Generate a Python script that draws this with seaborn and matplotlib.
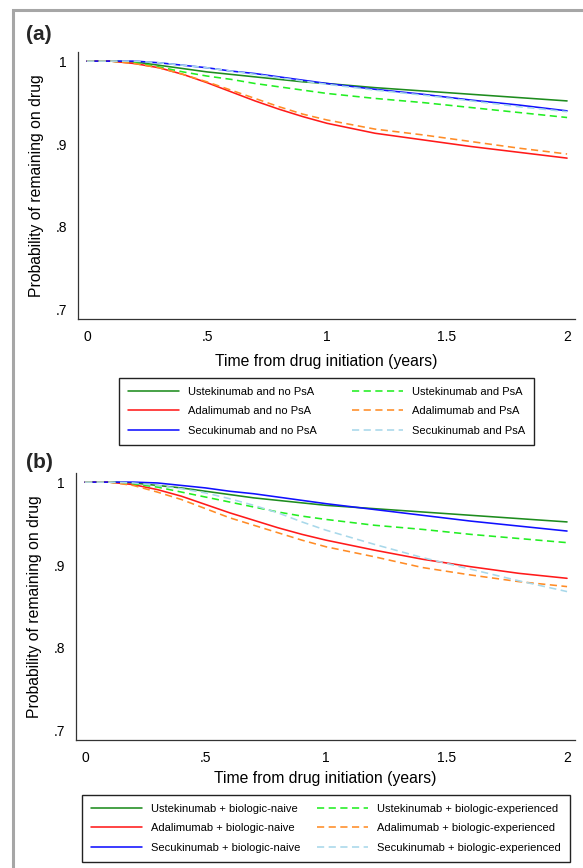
import numpy as np
import pandas as pd
import matplotlib
matplotlib.use("Agg")
import matplotlib.pyplot as plt
import seaborn as sns
from matplotlib.patches import Rectangle

# time points (years)
years = [0, 0.1, 0.2, 0.3, 0.4, 0.5, 0.6, 0.7, 0.8, 0.9, 1.0, 1.2, 1.4, 1.6, 1.8, 2.0]

# panel (a): by PsA status
a_ust_nopsa = [1, 1, .999, .995, .991, .987, .984, .981, .978, .975, .973, .968, .964, .960, .956, .952]
a_ada_nopsa = [1, 1, .997, .992, .984, .974, .963, .952, .942, .933, .925, .913, .905, .897, .890, .883]
a_sec_nopsa = [1, 1, 1, .998, .995, .992, .988, .985, .981, .977, .973, .966, .960, .953, .947, .940]
a_ust_psa = [1, 1, .998, .993, .987, .982, .978, .973, .969, .965, .961, .955, .950, .944, .938, .932]
a_ada_psa = [1, 1, .997, .992, .984, .975, .965, .955, .945, .936, .929, .918, .911, .903, .895, .888]
a_sec_psa = [1, 1, 1, .998, .995, .992, .988, .984, .980, .976, .972, .965, .959, .952, .945, .939]

# panel (b): by previous biologic exposure
b_ust_naive = [1, 1, .999, .996, .993, .989, .985, .981, .978, .975, .972, .968, .964, .960, .956, .952]
b_ada_naive = [1, 1, .997, .991, .983, .973, .963, .954, .945, .937, .930, .918, .907, .898, .890, .884]
b_sec_naive = [1, 1, 1, .999, .996, .993, .989, .986, .982, .978, .974, .967, .960, .953, .947, .941]
b_ust_exp = [1, 1, .998, .994, .988, .982, .976, .970, .964, .959, .955, .948, .943, .937, .932, .927]
b_ada_exp = [1, 1, .996, .988, .979, .968, .957, .948, .939, .930, .922, .910, .897, .888, .880, .874]
b_sec_exp = [1, 1, .999, .996, .992, .987, .980, .972, .963, .952, .942, .925, .909, .895, .881, .868]

labels_a = ["Ustekinumab and no PsA", "Adalimumab and no PsA", "Secukinumab and no PsA",
            "Ustekinumab and PsA", "Adalimumab and PsA", "Secukinumab and PsA"]
labels_b = ["Ustekinumab + biologic-naive", "Adalimumab + biologic-naive", "Secukinumab + biologic-naive",
            "Ustekinumab + biologic-experienced", "Adalimumab + biologic-experienced",
            "Secukinumab + biologic-experienced"]

line_colors = ["#1e8c1e", "#ff1a1a", "#1010ff", "#22ee22", "#ff8c26", "#a8d8ea"]
line_dashed = [False, False, False, True, True, True]

x_ticks = [0, 0.5, 1, 1.5, 2]
x_ticklabels = ["0", ".5", "1", "1.5", "2"]
y_ticks = [0.7, 0.8, 0.9, 1.0]
y_ticklabels = [".7", ".8", ".9", "1"]


def make_frame(labels, series):
    rows = []
    for lab, vals in zip(labels, series):
        for t, v in zip(years, vals):
            rows.append({"t": t, "p": v, "series": lab})
    return pd.DataFrame(rows)


def draw_panel(ax, df, labels, legend_box, xlabelpad):
    palette = dict(zip(labels, line_colors))
    dashes = {lab: ((4.5, 2.8) if d else "") for lab, d in zip(labels, line_dashed)}
    sns.lineplot(data=df, x="t", y="p", hue="series", style="series",
                 hue_order=labels, style_order=labels, palette=palette,
                 dashes=dashes, linewidth=1.15, ax=ax, legend=True)

    ax.set_xlim(-0.0375, 2.033)
    ax.set_ylim(0.689, 1.011)
    ax.set_xticks(x_ticks)
    ax.set_xticklabels(x_ticklabels)
    ax.set_yticks(y_ticks)
    ax.set_yticklabels(y_ticklabels)
    ax.tick_params(axis="both", direction="out", length=5, width=0.9,
                   color="#333333", labelsize=10, pad=3, labelcolor="black")
    for side in ["top", "right"]:
        ax.spines[side].set_visible(False)
    for side in ["left", "bottom"]:
        ax.spines[side].set_color("#333333")
        ax.spines[side].set_linewidth(0.9)
    ax.set_xlabel("Time from drug initiation (years)", fontsize=11.3,
                  labelpad=xlabelpad, color="black")
    ax.set_ylabel("Probability of remaining on drug", fontsize=11.3,
                  labelpad=8, color="black")
    ax.grid(False)

    handles, labs = ax.get_legend_handles_labels()
    ax.get_legend().remove()
    x0, top, x1, bottom = legend_box
    leg = ax.legend(handles, labs, ncol=2, loc="upper left",
                    bbox_to_anchor=(x0 / W, 1 - bottom / H, (x1 - x0) / W, (bottom - top) / H),
                    bbox_transform=fig.transFigure,
                    mode="expand", fontsize=8, frameon=True, fancybox=False,
                    handlelength=4.6, handletextpad=0.8, labelspacing=0.85,
                    borderaxespad=0, borderpad=0.8, columnspacing=0.6,
                    framealpha=1)
    leg.get_frame().set_edgecolor("#222222")
    leg.get_frame().set_linewidth(1.0)
    for txt in leg.get_texts():
        txt.set_color("black")


sns.set_theme(style="white")
plt.rcParams["font.family"] = ["Liberation Sans", "DejaVu Sans"]

W, H = 583, 868
fig = plt.figure(figsize=(5.83, 8.68), dpi=100)

ax_a = fig.add_axes([78 / W, 1 - 319 / H, (575 - 78) / W, (319 - 52) / H])
ax_b = fig.add_axes([76 / W, 1 - 740 / H, (575 - 76) / W, (740 - 473) / H])

df_a = make_frame(labels_a, [a_ust_nopsa, a_ada_nopsa, a_sec_nopsa, a_ust_psa, a_ada_psa, a_sec_psa])
df_b = make_frame(labels_b, [b_ust_naive, b_ada_naive, b_sec_naive, b_ust_exp, b_ada_exp, b_sec_exp])

draw_panel(ax_a, df_a, labels_a, (119, 378, 534, 443), 7)
draw_panel(ax_b, df_b, labels_b, (82, 795, 570, 860), 4.5)

fig.text(26 / W, 1 - 35 / H, "(a)", fontsize=15, fontweight="bold", va="center", ha="left")
fig.text(26 / W, 1 - 462 / H, "(b)", fontsize=15, fontweight="bold", va="center", ha="left")

# grey frame around the figure (cropped at right and bottom)
fig.patches.append(Rectangle((13 / W, -0.05), 1.1, 1 - 10 / H + 0.05,
                             transform=fig.transFigure, fill=False,
                             edgecolor="#a6a6a6", linewidth=2.2))

fig.savefig("out.png", dpi=100, facecolor="white")
